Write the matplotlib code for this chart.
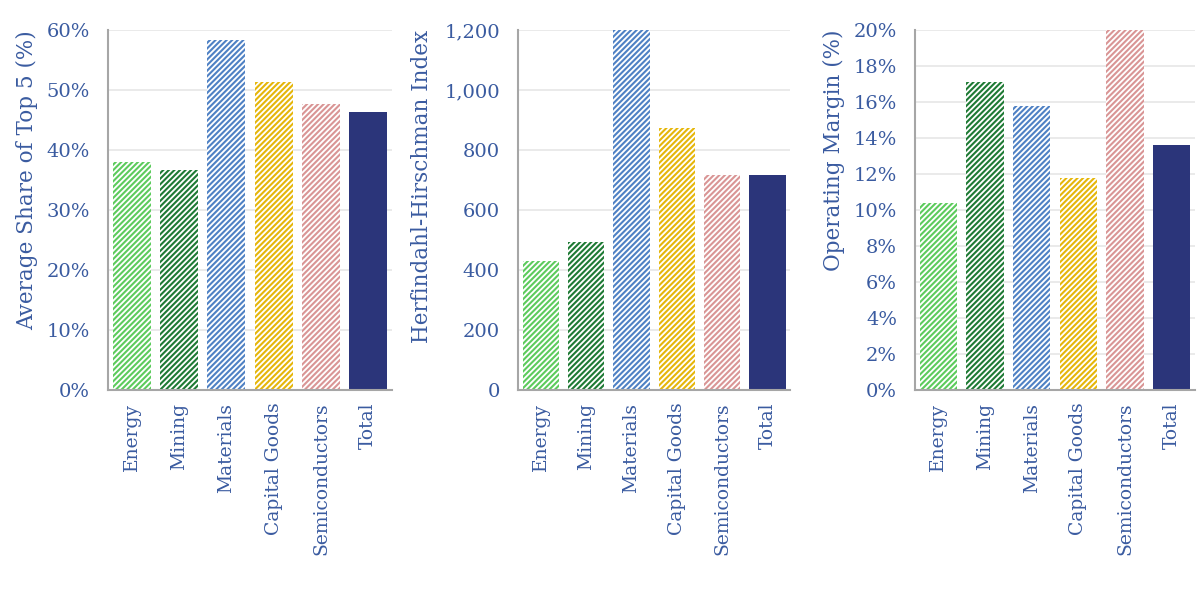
import matplotlib
matplotlib.use("Agg")
import matplotlib.pyplot as plt
from matplotlib.ticker import FuncFormatter, MultipleLocator

categories = ["Energy", "Mining", "Materials", "Capital Goods", "Semiconductors", "Total"]
share_top5 = [38.0, 36.7, 58.4, 51.4, 47.7, 46.3]
hhi = [430, 493, 1200, 873, 717, 717]
op_margin = [10.4, 17.1, 15.8, 11.8, 20.0, 13.6]

colors = ["#5ccb5c", "#1e7a34", "#4f81c4", "#e5b60a", "#d99595", "#2b357a"]
hatched = [True, True, True, True, True, False]

text_color = "#3a5ba0"
plt.rcParams["font.family"] = ["DejaVu Serif"]
plt.rcParams["hatch.linewidth"] = 1.5

fig = plt.figure(figsize=(12, 6.06), dpi=100)

panels = [
    dict(rect=[0.09, 0.3564, 0.2367, 0.5941], vals=share_top5, ylim=(0, 60), step=10,
         fmt=lambda v, p: f"{v:.0f}%", label="Average Share of Top 5 (%)", lp=6),
    dict(rect=[0.4317, 0.3564, 0.2267, 0.5941], vals=hhi, ylim=(0, 1200), step=200,
         fmt=lambda v, p: f"{v:,.0f}", label="Herfindahl-Hirschman Index", lp=8),
    dict(rect=[0.7625, 0.3564, 0.2333, 0.5941], vals=op_margin, ylim=(0, 20), step=2,
         fmt=lambda v, p: f"{v:.0f}%", label="Operating Margin (%)", lp=6),
]

for pn in panels:
    ax = fig.add_axes(pn["rect"])
    x = list(range(len(categories)))
    for i, (v, c, h) in enumerate(zip(pn["vals"], colors, hatched)):
        if h:
            ax.bar(x[i], v, width=0.8, facecolor="white", edgecolor=c, hatch="/" * 6,
                   linewidth=0, zorder=2)
        else:
            ax.bar(x[i], v, width=0.8, facecolor=c, edgecolor=c, linewidth=0, zorder=2)
    ax.set_xlim(-0.5, len(categories) - 0.5)
    ax.set_ylim(*pn["ylim"])
    ax.yaxis.set_major_locator(MultipleLocator(pn["step"]))
    ax.yaxis.set_major_formatter(FuncFormatter(pn["fmt"]))
    ax.grid(axis="y", color="#e6e6e6", linewidth=1.2, zorder=0)
    ax.set_axisbelow(True)
    for s in ["top", "right"]:
        ax.spines[s].set_visible(False)
    for s in ["left", "bottom"]:
        ax.spines[s].set_color("#a6a6a6")
        ax.spines[s].set_linewidth(1.5)
    ax.set_xticks(x)
    ax.set_xticklabels(categories, rotation=90, fontsize=13.5, color=text_color)
    ax.tick_params(axis="x", length=0, pad=9)
    ax.tick_params(axis="y", length=0, pad=13, labelsize=14, labelcolor=text_color)
    ax.set_ylabel(pn["label"], fontsize=15.5, color=text_color, labelpad=pn["lp"], loc="top")

fig.savefig("out.png", dpi=100)
